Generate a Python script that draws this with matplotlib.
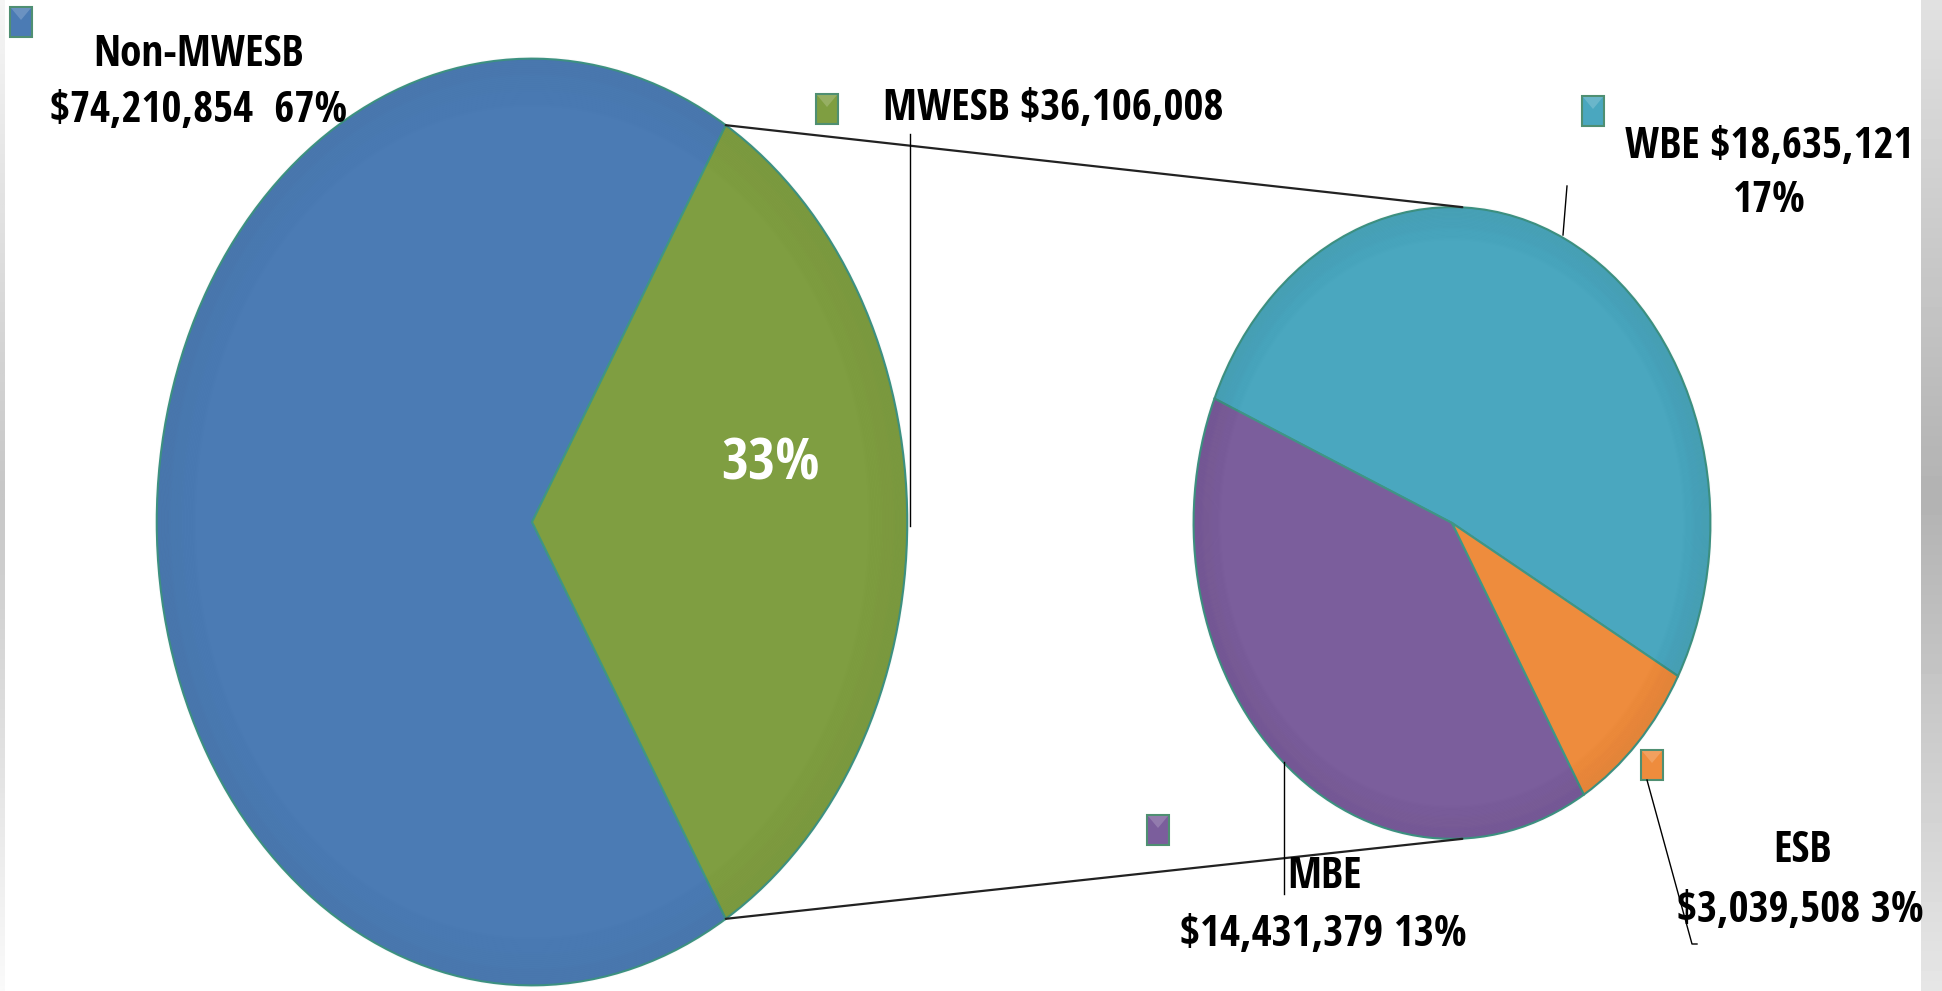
import numpy as np
import matplotlib
matplotlib.use("Agg")
import matplotlib.pyplot as plt
from matplotlib.patches import ConnectionPatch, Ellipse, Rectangle

# data
main_labels = ["Non-MWESB", "MWESB"]
main_values = [74210854, 36106008]
main_colors = ["#4b7bb4", "#7f9e41"]

sub_labels = ["WBE", "MBE", "ESB"]
sub_values = [18635121, 14431379, 3039508]
sub_colors = ["#4aa7bf", "#7b5e9c", "#ee8c3d"]

plt.rcParams["font.family"] = ["Open Sans Condensed", "Fira Sans Condensed", "DejaVu Sans"]
plt.rcParams["font.weight"] = "bold"

W, H = 1942, 991
fig = plt.figure(figsize=(W / 100, H / 100), dpi=100)
fig.patch.set_facecolor("white")
renderer = fig.canvas.get_renderer()


def px_axes(cx, cy, rx, ry):
    # axes box for an ellipse given in pixel coords (origin top-left)
    return fig.add_axes([(cx - rx) / W, (H - cy - ry) / H, 2 * rx / W, 2 * ry / H])


def rim(ax):
    # darker rim to fake the bevel look
    for r in np.linspace(1.0, 0.88, 30):
        a = 0.014 * (r - 0.88) / 0.12
        ax.add_patch(Ellipse((0, 0), 2 * r, 2 * r, fill=False, ec="black",
                             lw=3, alpha=a, zorder=3))


total = sum(main_values)
frac_green = main_values[1] / total
start = 360 * frac_green / 2

ax1 = px_axes(532, 522, 379, 468)
ax1.pie(main_values, colors=main_colors, startangle=start, counterclock=True,
        wedgeprops=dict(edgecolor="#3f9585", linewidth=1.5))
ax1.set_aspect("auto")
ax1.set_xlim(-1.01, 1.01)
ax1.set_ylim(-1.01, 1.01)
rim(ax1)

ax2 = px_axes(1452, 523, 261, 319)
ax2.pie(sub_values, colors=sub_colors, startangle=-29, counterclock=True,
        wedgeprops=dict(edgecolor="#3f9585", linewidth=1.5))
ax2.set_aspect("auto")
ax2.set_xlim(-1.01, 1.01)
ax2.set_ylim(-1.01, 1.01)
rim(ax2)

# connector lines between the pies
a = np.deg2rad(start)
for sgn in (1, -1):
    con = ConnectionPatch(xyA=(np.cos(a), sgn * np.sin(a)), coordsA=ax1.transData,
                          xyB=(0.04, sgn * 1.0), coordsB=ax2.transData,
                          color="#222222", lw=1.6)
    fig.add_artist(con)

# overlay for labels
ov = fig.add_axes([0, 0, 1, 1], zorder=5)
ov.set_xlim(0, W)
ov.set_ylim(H, 0)
ov.axis("off")
ov.patch.set_alpha(0)

# edge strips
grad = np.concatenate([np.linspace(0.88, 0.70, 50), np.linspace(0.70, 0.90, 50)])
ov.imshow(np.tile(grad[:, None], (1, 2)), cmap="gray", vmin=0, vmax=1,
          extent=[1921, W, H, 0], aspect="auto", zorder=0)
ov.imshow(np.tile(grad[:, None], (1, 2)) + 0.08, cmap="gray", vmin=0, vmax=1,
          extent=[0, 5, H, 0], aspect="auto", zorder=0)


def money(v):
    return "${:,}".format(v)


def pct(v):
    return "{:.0f}%".format(100 * v / total)


def fit_size(s, width_px):
    t = ov.text(0, 0, s, fontsize=30)
    w = t.get_window_extent(renderer).width
    t.remove()
    return 30 * width_px / w


fs = fit_size(sub_labels[0] + " " + money(sub_values[0]), 289)
fs_big = fit_size(pct(main_values[1]), 98)

# legend-like squares
squares = [((21, 22), main_colors[0]), ((827, 109), main_colors[1]),
           ((1593, 111), sub_colors[0]), ((1652, 765), sub_colors[2]),
           ((1158, 830), sub_colors[1])]
for (x, y), c in squares:
    ov.add_patch(Rectangle((x - 11, y - 15), 22, 30, fc=c, ec="#4f8f72", lw=1.5))
    ov.fill([x - 10, x + 10, x], [y - 14, y - 14, y - 2], color="white", alpha=0.18, lw=0)

# leader lines
ov.plot([910, 910], [134, 526], color="black", lw=1)
ov.plot([1567, 1563], [186, 235], color="black", lw=1)
ov.plot([1647, 1692, 1697], [780, 944, 944], color="black", lw=1)
ov.plot([1284, 1284], [762, 894], color="black", lw=1)

ov.text(199, 55, main_labels[0], fontsize=fs, ha="center", va="center")
ov.text(199, 111, money(main_values[0]) + "  " + pct(main_values[0]),
        fontsize=fs, ha="center", va="center")
ov.text(883, 109, main_labels[1] + " " + money(main_values[1]),
        fontsize=fs, ha="left", va="center")
ov.text(770, 464, pct(main_values[1]), fontsize=fs_big, color="white",
        ha="center", va="center")

ov.text(1769, 146, sub_labels[0] + " " + money(sub_values[0]),
        fontsize=fs, ha="center", va="center")
ov.text(1769, 201, pct(sub_values[0]), fontsize=fs, ha="center", va="center")

ov.text(1325, 877, sub_labels[1], fontsize=fs, ha="center", va="center")
ov.text(1323, 935, money(sub_values[1]) + " " + pct(sub_values[1]),
        fontsize=fs, ha="center", va="center")

ov.text(1802, 851, sub_labels[2], fontsize=fs, ha="center", va="center")
ov.text(1800, 910, money(sub_values[2]) + " " + pct(sub_values[2]),
        fontsize=fs, ha="center", va="center")

fig.savefig("out.png", dpi=100)
